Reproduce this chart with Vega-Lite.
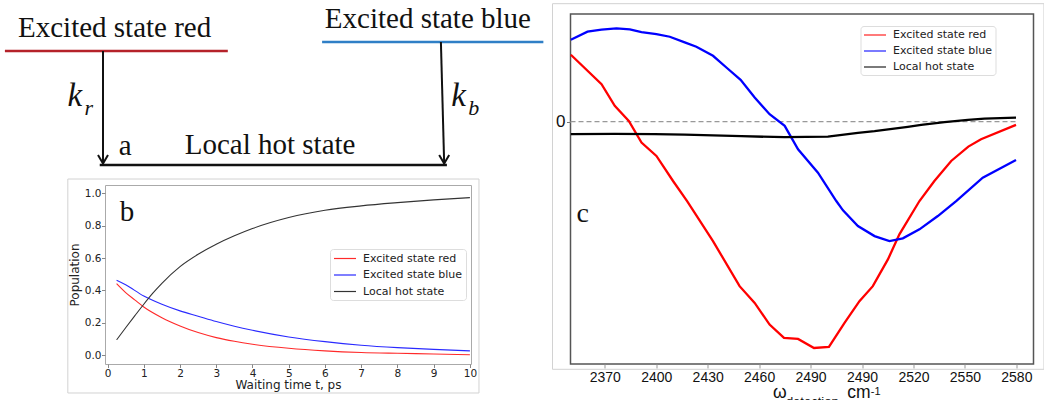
{
  "$schema": "https://vega.github.io/schema/vega-lite/v6.json",
  "padding": 0,
  "background": "white",
  "config": {"view": {"stroke": null}, "axis": {"labelOverlap": false}},
  "spacing": 5.5,
  "resolve": {"scale": {"x": "independent", "y": "independent", "color": "independent"}, "legend": {"color": "independent"}},
  "hconcat": [
    {
      "spacing": 0,
      "resolve": {"scale": {"x": "independent", "y": "independent", "color": "independent"}, "legend": {"color": "independent"}},
      "vconcat": [
        {
          "width": 545,
          "height": 177.5,
          "view": {"stroke": null},
          "encoding": {
            "x": {"field": "x", "type": "quantitative", "scale": {"domain": [0, 100], "nice": false, "zero": false}, "axis": null},
            "y": {"field": "y", "type": "quantitative", "scale": {"domain": [0, 100], "nice": false, "zero": false}, "axis": null}
          },
          "layer": [
            {
              "data": {"values": [
                {"level": "red", "x": 0.9, "x2": 41.8, "y": 71.27},
                {"level": "blue", "x": 59.1, "x2": 99.7, "y": 76.34},
                {"level": "hot", "x": 18.3, "x2": 82.0, "y": 7.04}
              ]},
              "mark": {"type": "rule", "strokeWidth": 2.6},
              "encoding": {
                "x2": {"field": "x2"},
                "color": {"field": "level", "type": "nominal", "scale": {"domain": ["red", "blue", "hot"], "range": ["#b5222a", "#2f7fc6", "#111111"]}, "legend": null}
              }
            },
            {
              "data": {"values": [
                {"x": 18.9, "y": 71.27, "x2": 18.9, "y2": 7.94},
                {"x": 80.9, "y": 76.34, "x2": 81.5, "y2": 7.94}
              ]},
              "mark": {"type": "rule", "strokeWidth": 2, "color": "#111111"},
              "encoding": {"x2": {"field": "x2"}, "y2": {"field": "y2"}}
            },
            {
              "data": {"values": [
                {"x": 18.9, "y": 7.94},
                {"x": 81.5, "y": 7.94}
              ]},
              "mark": {"type": "point", "shape": "M-1,-1.7L0,0L1,-1.7", "size": 100, "filled": false, "stroke": "#111111", "strokeWidth": 2, "opacity": 1},
              "encoding": {}
            },
            {
              "data": {"values": [
                {"label": "Excited state red", "x": 3.3, "y": 79.15},
                {"label": "Excited state blue", "x": 59.6, "y": 84.23},
                {"label": "Local hot state", "x": 33.9, "y": 13.24},
                {"label": "a", "x": 21.8, "y": 12.68}
              ]},
              "mark": {"type": "text", "font": "Liberation Serif", "fontSize": 29, "align": "left", "baseline": "alphabetic", "color": "#111111"},
              "encoding": {"text": {"field": "label"}}
            },
            {
              "data": {"values": [
                {"label": "k", "x": 12.4, "y": 40.28},
                {"label": "k", "x": 82.8, "y": 40.28}
              ]},
              "mark": {"type": "text", "font": "Liberation Serif", "fontStyle": "italic", "fontSize": 33, "align": "left", "baseline": "alphabetic", "color": "#111111"},
              "encoding": {"text": {"field": "label"}}
            },
            {
              "data": {"values": [
                {"label": "r", "x": 15.5, "y": 35.21},
                {"label": "b", "x": 85.9, "y": 35.21}
              ]},
              "mark": {"type": "text", "font": "Liberation Serif", "fontStyle": "italic", "fontSize": 22, "align": "left", "baseline": "alphabetic", "color": "#111111"},
              "encoding": {"text": {"field": "label"}}
            }
          ]
        },
        {
          "spacing": 0,
          "resolve": {"scale": {"x": "independent", "y": "independent", "color": "independent"}, "legend": {"color": "independent"}},
          "hconcat": [
            {
              "width": 65.5,
              "height": 10,
              "view": {"stroke": null},
              "data": {"values": []},
              "mark": {"type": "point", "opacity": 0}
            },
            {
              "width": 366,
              "height": 179,
              "view": {"stroke": "#aaaaaa", "strokeWidth": 1},
              "encoding": {
                "x": {"field": "t", "type": "quantitative", "scale": {"domain": [-0.07, 10.03], "nice": false, "zero": false},
                  "axis": {"values": [0, 1, 2, 3, 4, 5, 6, 7, 8, 9, 10], "labelOverlap": false, "title": "Waiting time t, ps", "grid": false, "domain": false,
                    "labelFont": "DejaVu Sans", "labelFontSize": 10.5, "labelColor": "#222222", "tickSize": 3.5, "tickColor": "#888888", "labelPadding": 0.5,
                    "titleFont": "DejaVu Sans", "titleFontSize": 12, "titleFontWeight": "normal", "titleColor": "#222222", "titlePadding": 1}},
                "y": {"field": "pop", "type": "quantitative", "scale": {"domain": [-0.054, 1.051], "nice": false, "zero": false},
                  "axis": {"values": [0, 0.2, 0.4, 0.6, 0.8, 1.0], "labelOverlap": false, "format": ".1f", "title": "Population", "grid": false, "domain": false,
                    "labelFont": "DejaVu Sans", "labelFontSize": 10.5, "labelColor": "#222222", "tickSize": 3.5, "tickColor": "#888888", "labelPadding": 0.5,
                    "titleFont": "DejaVu Sans", "titleFontSize": 12, "titleFontWeight": "normal", "titleColor": "#222222", "titlePadding": 3}}
              },
              "layer": [
                {
                  "data": {"values": [{"t": -1.096, "t2": 10.25, "pop": 1.088, "pop2": -0.233}]},
                  "mark": {"type": "rect", "filled": false, "color": "#d2d2d2", "strokeWidth": 1},
                  "encoding": {"x2": {"field": "t2"}, "y2": {"field": "pop2"}}
                },
                {
                  "data": {"values": [
                    {"series": "Excited state red", "t": 0.25, "pop": 0.442},
                    {"series": "Excited state red", "t": 0.5, "pop": 0.387},
                    {"series": "Excited state red", "t": 0.75, "pop": 0.342},
                    {"series": "Excited state red", "t": 1, "pop": 0.298},
                    {"series": "Excited state red", "t": 1.5, "pop": 0.232},
                    {"series": "Excited state red", "t": 2, "pop": 0.181},
                    {"series": "Excited state red", "t": 2.5, "pop": 0.14},
                    {"series": "Excited state red", "t": 3, "pop": 0.109},
                    {"series": "Excited state red", "t": 3.5, "pop": 0.086},
                    {"series": "Excited state red", "t": 4, "pop": 0.068},
                    {"series": "Excited state red", "t": 5, "pop": 0.043},
                    {"series": "Excited state red", "t": 6, "pop": 0.027},
                    {"series": "Excited state red", "t": 7, "pop": 0.017},
                    {"series": "Excited state red", "t": 8, "pop": 0.012},
                    {"series": "Excited state red", "t": 9, "pop": 0.008},
                    {"series": "Excited state red", "t": 10, "pop": 0.003},
                    {"series": "Excited state blue", "t": 0.25, "pop": 0.463},
                    {"series": "Excited state blue", "t": 0.5, "pop": 0.435},
                    {"series": "Excited state blue", "t": 1, "pop": 0.366},
                    {"series": "Excited state blue", "t": 1.5, "pop": 0.315},
                    {"series": "Excited state blue", "t": 2, "pop": 0.274},
                    {"series": "Excited state blue", "t": 2.5, "pop": 0.241},
                    {"series": "Excited state blue", "t": 3, "pop": 0.208},
                    {"series": "Excited state blue", "t": 3.5, "pop": 0.179},
                    {"series": "Excited state blue", "t": 4, "pop": 0.154},
                    {"series": "Excited state blue", "t": 5, "pop": 0.113},
                    {"series": "Excited state blue", "t": 6, "pop": 0.084},
                    {"series": "Excited state blue", "t": 7, "pop": 0.062},
                    {"series": "Excited state blue", "t": 8, "pop": 0.047},
                    {"series": "Excited state blue", "t": 9, "pop": 0.036},
                    {"series": "Excited state blue", "t": 10, "pop": 0.027},
                    {"series": "Local hot state", "t": 0.25, "pop": 0.095},
                    {"series": "Local hot state", "t": 0.5, "pop": 0.17},
                    {"series": "Local hot state", "t": 0.75, "pop": 0.243},
                    {"series": "Local hot state", "t": 1, "pop": 0.315},
                    {"series": "Local hot state", "t": 1.25, "pop": 0.383},
                    {"series": "Local hot state", "t": 1.5, "pop": 0.444},
                    {"series": "Local hot state", "t": 2, "pop": 0.547},
                    {"series": "Local hot state", "t": 2.5, "pop": 0.623},
                    {"series": "Local hot state", "t": 3, "pop": 0.685},
                    {"series": "Local hot state", "t": 3.5, "pop": 0.737},
                    {"series": "Local hot state", "t": 4, "pop": 0.782},
                    {"series": "Local hot state", "t": 5, "pop": 0.85},
                    {"series": "Local hot state", "t": 6, "pop": 0.895},
                    {"series": "Local hot state", "t": 7, "pop": 0.922},
                    {"series": "Local hot state", "t": 8, "pop": 0.942},
                    {"series": "Local hot state", "t": 9, "pop": 0.959},
                    {"series": "Local hot state", "t": 10, "pop": 0.973}
                  ]},
                  "mark": {"type": "line", "strokeWidth": 1.1, "interpolate": "monotone"},
                  "encoding": {
                    "color": {"field": "series", "type": "nominal",
                      "scale": {"domain": ["Excited state red", "Excited state blue", "Local hot state"], "range": ["#ff2a2a", "#2a2aff", "#333333"]},
                      "legend": {"title": null, "orient": "none", "legendX": 225, "legendY": 64, "symbolType": "M-1,0L3,0", "symbolSize": 121, "symbolStrokeWidth": 1.2,
                        "labelFont": "DejaVu Sans", "labelFontSize": 11, "labelLimit": 300, "labelColor": "#222222", "labelOffset": 17, "rowPadding": 4.5, "padding": 3,
                        "strokeColor": "#dddddd", "fillColor": "white", "cornerRadius": 3}}
                  }
                },
                {
                  "data": {"values": [{"label": "b", "t": 0.34, "pop": 0.829}]},
                  "mark": {"type": "text", "font": "Liberation Serif", "fontSize": 29, "align": "left", "baseline": "alphabetic", "color": "#111111"},
                  "encoding": {"text": {"field": "label"}}
                }
              ]
            }
          ]
        }
      ]
    },
    {
      "spacing": 0,
      "resolve": {"scale": {"x": "independent", "y": "independent", "color": "independent"}, "legend": {"color": "independent"}},
      "vconcat": [
        {
          "width": 10,
          "height": 2,
          "view": {"stroke": null},
          "data": {"values": []},
          "mark": {"type": "point", "opacity": 0}
        },
        {
          "width": 463,
          "height": 350,
          "view": {"stroke": "#555555", "strokeWidth": 1.5},
          "encoding": {
            "x": {"field": "w", "type": "quantitative", "scale": {"domain": [2350, 2620], "nice": false, "zero": false},
              "axis": {"values": [2370, 2400, 2430, 2460, 2490, 2520, 2550, 2580, 2610], "labelOverlap": false, "labelExpr": "datum.value >= 2520 ? format(datum.value - 30, 'd') : format(datum.value, 'd')",
                "title": null, "grid": false, "domain": false, "labelFont": "Liberation Sans", "labelFontSize": 14, "labelColor": "#111111",
                "tickSize": 4, "tickColor": "#999999", "labelPadding": 2, "labelDx": 2}},
            "y": {"field": "signal", "type": "quantitative", "scale": {"domain": [-24.2, 10.74], "nice": false, "zero": false},
              "axis": {"values": [0], "format": "d", "title": null, "grid": false, "domain": false, "labelFont": "Liberation Sans", "labelFontSize": 17, "labelColor": "#111111",
                "tickSize": 4, "tickColor": "#777777", "labelPadding": 1.5}}
          },
          "layer": [
            {
              "data": {"values": [{"w": 2339.5, "w2": 2626.1, "signal": 11.77, "signal2": -24.73}]},
              "mark": {"type": "rect", "filled": false, "color": "#d2d2d2", "strokeWidth": 1},
              "encoding": {"x2": {"field": "w2"}, "y2": {"field": "signal2"}}
            },
            {
              "data": {"values": [{"w": 2350, "w2": 2610, "signal": 0}]},
              "mark": {"type": "rule", "strokeDash": [5, 3], "color": "#999999", "strokeWidth": 1.4},
              "encoding": {"x2": {"field": "w2"}}
            },
            {
              "data": {"values": [
                {"state": "Excited state red", "w": 2350.2, "signal": 6.67},
                {"state": "Excited state red", "w": 2368.1, "signal": 3.74},
                {"state": "Excited state red", "w": 2375.8, "signal": 1.57},
                {"state": "Excited state red", "w": 2384.0, "signal": 0.07},
                {"state": "Excited state red", "w": 2391.4, "signal": -2.1},
                {"state": "Excited state red", "w": 2400.1, "signal": -3.43},
                {"state": "Excited state red", "w": 2409.8, "signal": -5.93},
                {"state": "Excited state red", "w": 2418.0, "signal": -7.93},
                {"state": "Excited state red", "w": 2433.1, "signal": -11.93},
                {"state": "Excited state red", "w": 2448.6, "signal": -16.43},
                {"state": "Excited state red", "w": 2457.4, "signal": -18.1},
                {"state": "Excited state red", "w": 2466.1, "signal": -20.26},
                {"state": "Excited state red", "w": 2474.5, "signal": -21.6},
                {"state": "Excited state red", "w": 2482.7, "signal": -21.7},
                {"state": "Excited state red", "w": 2492.0, "signal": -22.6},
                {"state": "Excited state red", "w": 2500.7, "signal": -22.5},
                {"state": "Excited state red", "w": 2509.8, "signal": -20.1},
                {"state": "Excited state red", "w": 2518.5, "signal": -17.93},
                {"state": "Excited state red", "w": 2526.3, "signal": -16.43},
                {"state": "Excited state red", "w": 2535.1, "signal": -13.76},
                {"state": "Excited state red", "w": 2541.8, "signal": -11.26},
                {"state": "Excited state red", "w": 2553.5, "signal": -7.93},
                {"state": "Excited state red", "w": 2562.2, "signal": -5.93},
                {"state": "Excited state red", "w": 2572.0, "signal": -3.93},
                {"state": "Excited state red", "w": 2582.0, "signal": -2.5},
                {"state": "Excited state red", "w": 2589.4, "signal": -1.76},
                {"state": "Excited state red", "w": 2609.8, "signal": -0.33},
                {"state": "Excited state blue", "w": 2350.2, "signal": 8.17},
                {"state": "Excited state blue", "w": 2359.9, "signal": 8.97},
                {"state": "Excited state blue", "w": 2368.1, "signal": 9.17},
                {"state": "Excited state blue", "w": 2376.8, "signal": 9.3},
                {"state": "Excited state blue", "w": 2384.6, "signal": 9.2},
                {"state": "Excited state blue", "w": 2391.4, "signal": 8.94},
                {"state": "Excited state blue", "w": 2400.1, "signal": 8.74},
                {"state": "Excited state blue", "w": 2407.9, "signal": 8.47},
                {"state": "Excited state blue", "w": 2416.6, "signal": 7.9},
                {"state": "Excited state blue", "w": 2423.4, "signal": 7.47},
                {"state": "Excited state blue", "w": 2433.1, "signal": 6.57},
                {"state": "Excited state blue", "w": 2440.9, "signal": 5.4},
                {"state": "Excited state blue", "w": 2449.2, "signal": 4.17},
                {"state": "Excited state blue", "w": 2457.4, "signal": 2.4},
                {"state": "Excited state blue", "w": 2466.1, "signal": 0.74},
                {"state": "Excited state blue", "w": 2474.9, "signal": -0.43},
                {"state": "Excited state blue", "w": 2482.7, "signal": -2.76},
                {"state": "Excited state blue", "w": 2494.3, "signal": -5.1},
                {"state": "Excited state blue", "w": 2505.0, "signal": -7.93},
                {"state": "Excited state blue", "w": 2508.9, "signal": -8.86},
                {"state": "Excited state blue", "w": 2517.6, "signal": -10.43},
                {"state": "Excited state blue", "w": 2527.3, "signal": -11.43},
                {"state": "Excited state blue", "w": 2536.0, "signal": -11.93},
                {"state": "Excited state blue", "w": 2543.8, "signal": -11.66},
                {"state": "Excited state blue", "w": 2553.5, "signal": -10.76},
                {"state": "Excited state blue", "w": 2564.2, "signal": -9.43},
                {"state": "Excited state blue", "w": 2574.9, "signal": -7.93},
                {"state": "Excited state blue", "w": 2590.4, "signal": -5.6},
                {"state": "Excited state blue", "w": 2609.8, "signal": -3.83},
                {"state": "Local hot state", "w": 2350.2, "signal": -1.26},
                {"state": "Local hot state", "w": 2375.8, "signal": -1.23},
                {"state": "Local hot state", "w": 2399.1, "signal": -1.26},
                {"state": "Local hot state", "w": 2416.6, "signal": -1.3},
                {"state": "Local hot state", "w": 2449.6, "signal": -1.46},
                {"state": "Local hot state", "w": 2474.9, "signal": -1.56},
                {"state": "Local hot state", "w": 2500.1, "signal": -1.5},
                {"state": "Local hot state", "w": 2517.6, "signal": -1.13},
                {"state": "Local hot state", "w": 2527.3, "signal": -0.96},
                {"state": "Local hot state", "w": 2546.7, "signal": -0.53},
                {"state": "Local hot state", "w": 2554.5, "signal": -0.33},
                {"state": "Local hot state", "w": 2568.1, "signal": -0.06},
                {"state": "Local hot state", "w": 2581.7, "signal": 0.17},
                {"state": "Local hot state", "w": 2591.4, "signal": 0.3},
                {"state": "Local hot state", "w": 2609.8, "signal": 0.4}
              ]},
              "mark": {"type": "line", "strokeWidth": 2.3},
              "encoding": {
                "color": {"field": "state", "type": "nominal",
                  "scale": {"domain": ["Excited state red", "Excited state blue", "Local hot state"], "range": ["#ff0000", "#0000ff", "#000000"]},
                  "legend": {"title": null, "orient": "none", "legendX": 290, "legendY": 12, "symbolType": "M-1,0L3,0", "symbolSize": 121, "symbolStrokeWidth": 1.3, "symbolOpacity": 0.8,
                    "labelFont": "DejaVu Sans", "labelFontSize": 11, "labelLimit": 300, "labelColor": "#222222", "labelOffset": 17, "rowPadding": 4, "padding": 2.5,
                    "strokeColor": "#dddddd", "fillColor": "white", "cornerRadius": 3}}
              }
            },
            {
              "data": {"values": [{"label": "c", "w": 2353.5, "signal": -10.0}]},
              "mark": {"type": "text", "font": "Liberation Serif", "fontSize": 28, "align": "left", "baseline": "alphabetic", "color": "#111111"},
              "encoding": {"text": {"field": "label"}}
            },
            {
              "data": {"values": [
                {"label": "ω", "w": 2468.1, "signal": -27.6},
                {"label": "cm", "w": 2511.4, "signal": -27.6}
              ]},
              "mark": {"type": "text", "font": "Liberation Sans", "fontSize": 17.5, "align": "left", "baseline": "alphabetic", "color": "#111111"},
              "encoding": {"text": {"field": "label"}}
            },
            {
              "data": {"values": [{"label": "detection,", "w": 2475.6, "signal": -28.4}]},
              "mark": {"type": "text", "font": "Liberation Sans", "fontSize": 13, "align": "left", "baseline": "alphabetic", "color": "#111111"},
              "encoding": {"text": {"field": "label"}}
            },
            {
              "data": {"values": [{"label": "-1", "w": 2525.1, "signal": -27.3}]},
              "mark": {"type": "text", "font": "Liberation Sans", "fontSize": 11, "align": "left", "baseline": "alphabetic", "color": "#111111"},
              "encoding": {"text": {"field": "label"}}
            }
          ]
        }
      ]
    }
  ]
}
